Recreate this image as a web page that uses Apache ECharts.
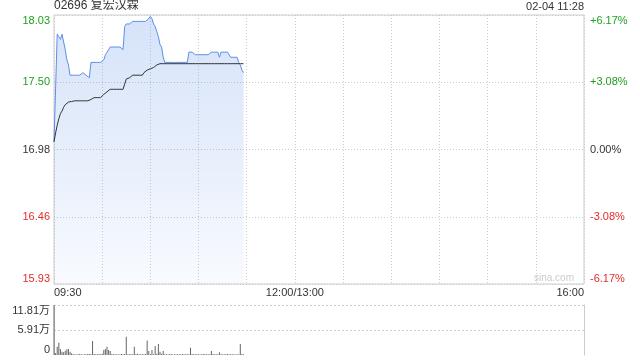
<!DOCTYPE html>
<html><head><meta charset="utf-8">
<script src="https://cdn.jsdelivr.net/npm/echarts@6/dist/echarts.min.js"></script>
<style>html,body{margin:0;padding:0;background:#fff}#c{width:640px;height:360px}</style>
</head><body><div id="c"></div>
<script>
// ---- data ----
const stockTitle = '02696 复宏汉霖';
const stampText = '02-04 11:28';
const timeTickValues = [0, 150, 330];
const timeTickLabels = ['09:30', '12:00/13:00', '16:00'];
const priceTickValues = [15.93, 16.455, 16.98, 17.505, 18.03];
const priceTickLabels = ['15.93', '16.46', '16.98', '17.50', '18.03'];
const pctTickLabels = ['-6.17%', '-3.08%', '0.00%', '+3.08%', '+6.17%'];
const volTickValues = [0, 59050, 118100];
const volTickLabels = ['0', '5.91万', '11.81万'];
// price per minute from 09:30 (index = minute)
const price = [
 17.04,17.46,17.88,17.86,17.84,17.88,17.88,17.76,17.68,17.64,
 17.56,17.56,17.56,17.56,17.56,17.56,17.56,17.56,17.58,17.58,
 17.56,17.56,17.54,17.66,17.66,17.66,17.66,17.66,17.66,17.66,
 17.66,17.68,17.72,17.74,17.76,17.78,17.78,17.78,17.78,17.78,
 17.78,17.78,17.78,17.76,17.94,17.96,17.96,17.96,17.96,17.98,
 17.98,17.98,17.98,17.98,17.98,17.98,17.98,17.98,17.98,18.00,
 18.02,18.00,17.96,17.94,17.90,17.86,17.80,17.78,17.70,17.66,
 17.66,17.66,17.66,17.66,17.66,17.66,17.66,17.66,17.66,17.66,
 17.66,17.66,17.66,17.66,17.74,17.74,17.74,17.74,17.72,17.72,
 17.72,17.72,17.72,17.72,17.72,17.72,17.72,17.72,17.74,17.74,
 17.74,17.74,17.74,17.70,17.74,17.74,17.74,17.74,17.74,17.74,
 17.70,17.70,17.70,17.70,17.70,17.66,17.64,17.60,17.58
];
const avgPrice = [
 17.04,17.11,17.17,17.22,17.26,17.28,17.31,17.33,17.34,17.35,
 17.35,17.355,17.36,17.36,17.36,17.36,17.36,17.36,17.36,17.36,
 17.36,17.36,17.36,17.37,17.385,17.385,17.385,17.385,17.385,17.385,
 17.39,17.41,17.42,17.43,17.44,17.45,17.45,17.45,17.45,17.45,
 17.45,17.45,17.45,17.45,17.49,17.53,17.535,17.54,17.55,17.56,
 17.56,17.56,17.56,17.56,17.56,17.56,17.58,17.59,17.60,17.605,
 17.61,17.615,17.62,17.63,17.64,17.645,17.65,17.65,17.65,17.65,
 17.65,17.65,17.65,17.65,17.65,17.65,17.65,17.65,17.65,17.65,
 17.65,17.65,17.65,17.65,17.65,17.65,17.65,17.65,17.65,17.65,
 17.65,17.65,17.65,17.65,17.65,17.65,17.65,17.65,17.65,17.65,
 17.65,17.65,17.65,17.65,17.65,17.65,17.65,17.65,17.65,17.65,
 17.65,17.65,17.65,17.65,17.65,17.65,17.65,17.65,17.65
];
const volume = [
 118100,5000,19600,29100,14200,7900,6300,10200,13400,14200,
 7900,3900,1500,2000,1200,1800,2500,1500,1200,2000,
 1800,2200,2600,2000,33100,2400,1500,1800,2200,1600,
 3000,11800,14200,19600,11800,9400,2500,1800,1500,2000,
 1200,1600,2200,1800,2500,43300,2000,1600,2400,1800,
 19600,2200,3000,1800,1500,2000,1600,2200,34000,9400,
 2500,11800,2000,21300,3000,26000,7900,3000,9400,2000,
 1500,1800,1600,2200,1400,1800,2000,1500,1600,1800,
 2200,1500,1700,2000,1800,17300,2500,1600,1800,2000,
 1500,1400,1800,2200,1600,1500,2000,1800,9400,2200,
 1600,1800,2000,6300,1500,2000,1800,1600,2200,1500,
 1800,2000,1600,1400,1800,2000,26000,2200,1800
];

// ---- chart ----
const FONT = 'Arial, "Liberation Sans", "Noto Sans CJK SC", sans-serif';
const GREEN = '#1ea01e', RED = '#e52b2b', DARK = '#333';
const priceColors = [RED, RED, DARK, GREEN, GREEN];
function idxOf(arr, v) {
  v = parseFloat(v);
  let best = 0;
  for (let k = 1; k < arr.length; k++) if (Math.abs(arr[k] - v) < Math.abs(arr[best] - v)) best = k;
  return best;
}
const gridLine = { show: true, lineStyle: { color: '#ccc', type: [1, 2], width: 1 } };

const chart = echarts.init(document.getElementById('c'), null, { renderer: 'canvas' });
chart.setOption({
  animation: false,
  textStyle: { fontFamily: FONT },
  title: [
    { text: stockTitle, left: 54, top: 0, padding: 0,
      textStyle: { fontSize: 12, fontWeight: 'normal', color: DARK, fontFamily: FONT } },
    { text: stampText, right: 56, top: 1, padding: 0,
      textStyle: { fontSize: 11, fontWeight: 'normal', color: DARK, fontFamily: FONT } }
  ],
  graphic: [{
    type: 'text', right: 66, top: 273, z: 0,
    style: { text: 'sina.com', fill: '#ccc', font: '10px ' + FONT }
  }],
  grid: [
    { left: 54, right: 56, top: 15, height: 269, show: true, borderColor: '#ccc', borderWidth: 1, backgroundColor: 'transparent' },
    { left: 54, right: 56, top: 305, height: 50, show: false }
  ],
  xAxis: [
    { gridIndex: 0, type: 'value', min: 0, max: 330, interval: 30,
      axisLine: { show: false }, axisTick: { show: false },
      splitLine: gridLine,
      axisLabel: { show: true, fontSize: 11, color: DARK, margin: 3, fontFamily: FONT,
        alignMinLabel: 'left', alignMaxLabel: 'right',
        formatter: v => { const k = timeTickValues.indexOf(v); return k >= 0 ? timeTickLabels[k] : ''; } } },
    { gridIndex: 1, type: 'value', min: 0, max: 330, interval: 30,
      axisLine: { show: false }, axisTick: { show: false }, splitLine: { show: false },
      axisLabel: { show: false } }
  ],
  yAxis: [
    { gridIndex: 0, type: 'value', min: 15.93, max: 18.03, position: 'left',
      axisLine: { show: false },
      axisTick: { show: false, customValues: priceTickValues },
      splitLine: gridLine,
      axisLabel: { customValues: priceTickValues, fontSize: 11, margin: 4, fontFamily: FONT,
        verticalAlignMinLabel: 'bottom', verticalAlignMaxLabel: 'top',
        formatter: v => priceTickLabels[idxOf(priceTickValues, v)],
        color: v => priceColors[idxOf(priceTickValues, v)] } },
    { gridIndex: 0, type: 'value', min: 15.93, max: 18.03, position: 'right',
      axisLine: { show: false },
      axisTick: { show: false, customValues: priceTickValues },
      splitLine: { show: false },
      axisLabel: { customValues: priceTickValues, fontSize: 11, margin: 6, fontFamily: FONT,
        verticalAlignMinLabel: 'bottom', verticalAlignMaxLabel: 'top',
        formatter: v => pctTickLabels[idxOf(priceTickValues, v)],
        color: v => priceColors[idxOf(priceTickValues, v)] } },
    { gridIndex: 1, type: 'value', min: 0, max: 118100, position: 'left',
      axisLine: { show: true, lineStyle: { color: '#ccc' } },
      axisTick: { show: false, customValues: volTickValues },
      splitLine: { show: true, showMinLine: false, lineStyle: { color: '#ccc', type: [2, 2] } },
      axisLabel: { customValues: volTickValues, fontSize: 11, margin: 4, color: DARK, fontFamily: FONT,
        verticalAlignMinLabel: 'bottom', verticalAlignMaxLabel: 'top',
        formatter: v => volTickLabels[idxOf(volTickValues, v)] } },
    { gridIndex: 1, type: 'value', min: 0, max: 118100, position: 'right',
      axisLine: { show: true, lineStyle: { color: '#ccc' } },
      axisTick: { show: false }, splitLine: { show: false }, axisLabel: { show: false } }
  ],
  series: [
    { type: 'line', xAxisIndex: 0, yAxisIndex: 0, showSymbol: false, symbol: 'none',
      data: price.map((p, i) => [i, p]),
      lineStyle: { color: '#5a8ee8', width: 1 },
      itemStyle: { color: '#5a8ee8' },
      areaStyle: { origin: 'start', color: new echarts.graphic.LinearGradient(0, 0, 0, 1, [
        { offset: 0, color: 'rgba(90,142,232,0.36)' },
        { offset: 1, color: 'rgba(90,142,232,0.06)' }]) },
      z: 3 },
    { type: 'line', xAxisIndex: 0, yAxisIndex: 0, showSymbol: false, symbol: 'none',
      data: avgPrice.map((p, i) => [i, p]),
      lineStyle: { color: '#333', width: 1 }, itemStyle: { color: '#333' }, z: 4 },
    { type: 'bar', xAxisIndex: 1, yAxisIndex: 2, barWidth: 1,
      data: volume.map((v, i) => [i, v]),
      itemStyle: { color: '#666' } }
  ]
});
</script></body></html>
